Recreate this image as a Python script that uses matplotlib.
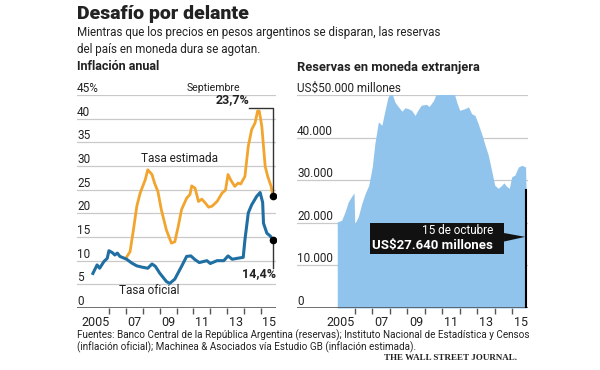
import matplotlib
matplotlib.use("Agg")
import matplotlib.pyplot as plt
import matplotlib.transforms as mtransforms
from matplotlib.patches import Rectangle, Polygon

plt.rcParams['font.family'] = ['Roboto', 'DejaVu Sans']
plt.rcParams['axes.unicode_minus'] = False
narrow = ['Liberation Sans Narrow', 'Roboto', 'DejaVu Sans']

# inflacion oficial (INDEC), % anual
oficial_t = [2005.05, 2005.3, 2005.45, 2005.7, 2005.9, 2006.0, 2006.2, 2006.35, 2006.5, 2006.65,
             2007.05, 2007.35, 2007.65, 2008.0, 2008.3, 2008.55, 2008.75, 2009.0, 2009.4, 2009.6,
             2009.9, 2010.3, 2010.6, 2010.85, 2011.1, 2011.35, 2011.8, 2012.0, 2012.4, 2012.8,
             2013.05, 2013.3, 2013.6, 2013.95, 2014.05, 2014.25, 2014.45, 2014.75, 2014.95, 2015.1,
             2015.15, 2015.35, 2015.55, 2015.71]
oficial_v = [7.3, 9.1, 8.4, 9.8, 10.5, 12.1, 11.7, 11.2, 11.6, 10.9,
             10.3, 9.5, 8.9, 8.6, 8.4, 9.3, 8.8, 7.4, 5.6, 5.2,
             6.1, 8.8, 10.9, 11.0, 10.2, 9.6, 10.0, 9.4, 10.0, 10.0,
             11.0, 10.3, 10.5, 10.7, 14.4, 20.1, 21.8, 23.6, 24.4, 22.3,
             17.9, 15.8, 15.2, 14.4]

# inflacion estimada (Machinea & Asociados), % anual
estimada_t = [2007.0, 2007.25, 2007.45, 2007.65, 2007.85, 2008.0, 2008.15, 2008.3, 2008.55, 2008.7,
              2008.9, 2009.1, 2009.4, 2009.7, 2009.9, 2010.1, 2010.3, 2010.6, 2010.8, 2010.9,
              2011.1, 2011.3, 2011.5, 2011.7, 2011.9, 2012.1, 2012.4, 2012.7, 2012.9, 2013.05,
              2013.25, 2013.45, 2013.65, 2013.8, 2014.05, 2014.25, 2014.45, 2014.65, 2014.8, 2014.9,
              2015.05, 2015.25, 2015.4, 2015.6, 2015.71]
estimada_v = [10.5, 11.9, 16.5, 21.5, 24.3, 25.7, 27.1, 29.2, 28.2, 26.4,
              24.6, 20.8, 16.5, 13.7, 14.0, 17.2, 20.8, 23.2, 24.0, 25.8,
              25.3, 22.5, 23.0, 22.2, 21.3, 21.5, 22.5, 24.3, 24.9, 28.2,
              26.8, 25.7, 26.4, 26.2, 27.8, 34.2, 37.7, 39.1, 41.6, 41.6,
              38.4, 29.9, 27.8, 25.7, 23.7]

# reservas, millones de US$
reservas_t = [2005.0, 2005.25, 2005.45, 2005.63, 2005.82, 2005.96, 2006.0, 2006.2, 2006.4, 2006.6,
              2006.8, 2007.0, 2007.15, 2007.35, 2007.55, 2007.73, 2007.9, 2008.1, 2008.3, 2008.5,
              2008.7, 2008.87, 2009.05, 2009.25, 2009.45, 2009.6, 2009.8, 2010.1, 2010.25, 2010.5,
              2010.7, 2010.87, 2011.05, 2011.3, 2011.55, 2011.65, 2011.83, 2012.0, 2012.3, 2012.5,
              2012.68, 2012.87, 2013.05, 2013.25, 2013.45, 2013.63, 2013.82, 2014.0, 2014.2, 2014.4,
              2014.52, 2014.67, 2014.83, 2014.97, 2015.15, 2015.35, 2015.55, 2015.76, 2015.79]
reservas_v = [20200, 20600, 22600, 24900, 26200, 27000, 19800, 21400, 24500, 26900,
              28800, 33100, 38600, 43700, 42900, 46400, 49500, 50700, 48300, 47200,
              46200, 47000, 46800, 46400, 45200, 46400, 47600, 47800, 47300, 48700,
              50700, 51900, 52500, 52100, 52300, 50800, 48300, 46400, 46800, 47200,
              45600, 45200, 43300, 40900, 38200, 35900, 32300, 28800, 28100, 28800,
              29400, 28600, 28100, 30800, 31200, 33100, 33500, 33100, 27640]

fecha_final = 2015.79
reserva_final = 27640

infl_ticks = [0, 5, 10, 15, 20, 25, 30, 35, 40, 45]
infl_labels = ['0', '5', '10', '15', '20', '25', '30', '35', '40', '45%']
res_ticks = [0, 10000, 20000, 30000, 40000, 50000]
res_labels = ['0', '10.000', '20.000', '30.000', '40.000', 'US$50.000 millones']
year_bounds = list(range(2006, 2016))
year_label_pos = [2005.2, 2007.5, 2009.5, 2011.5, 2013.5, 2015.5]
year_labels = ['2005', '07', '09', '11', '13', '15']

c_orange = '#F2A52E'
c_blue = '#1F6FA3'
c_fill = '#90C4EC'
c_grid = '#C9C9C9'
c_text = '#222222'

fig = plt.figure(figsize=(6, 3.7), dpi=100)
W, H = 600.0, 370.0


def style_axes(ax, ticks, labels):
    for s in ax.spines.values():
        s.set_visible(False)
    ax.set_yticks([])
    trans = mtransforms.blended_transform_factory(ax.transAxes, ax.transData)
    for t, lab in zip(ticks, labels):
        if t > 0:
            ax.axhline(t, color=c_grid, lw=0.9, zorder=0)
        ax.text(0.0, t, lab, transform=trans, ha='left', va='bottom', fontsize=8.5,
                color=c_text)
    ax.axhline(0, color='#555555', lw=1.2, zorder=5)
    ax.set_xticks(year_bounds)
    ax.set_xticklabels([])
    ax.tick_params(axis='x', which='major', direction='out', length=4, width=1,
                   color='#555555', pad=0)
    ax.set_xticks(year_label_pos, minor=True)
    ax.set_xticklabels(year_labels, minor=True)
    ax.tick_params(axis='x', which='minor', length=0, pad=6, labelsize=9, labelcolor=c_text)


# --- Inflacion anual ---
ax1 = fig.add_axes([77 / W, 1 - 308 / H, 199 / W, 213 / H])
ax1.set_xlim(2004.11, 2015.89)
ax1.set_ylim(0, 45)
style_axes(ax1, infl_ticks, infl_labels)
ax1.plot(estimada_t, estimada_v, color=c_orange, lw=2, zorder=3, solid_joinstyle='round')
ax1.plot(oficial_t, oficial_v, color=c_blue, lw=2.2, zorder=4, solid_joinstyle='round')
ax1.plot([estimada_t[-1], estimada_t[-1], 2014.3], [estimada_v[-1], 42.2, 42.2],
         color='#333333', lw=1, zorder=6, clip_on=False)
ax1.plot([oficial_t[-1], oficial_t[-1]], [oficial_v[-1], 8.5], color='#333333', lw=1, zorder=6)
ax1.plot([estimada_t[-1], oficial_t[-1]], [estimada_v[-1], oficial_v[-1]], 'o',
         color='black', ms=4.5, zorder=7)
ax1.text(2013.76, 46.4, 'Septiembre', ha='right', va='center', fontsize=7.6, color=c_text)
ax1.text(2014.3, 42.7, '23,7%', ha='right', va='bottom', fontsize=9, fontweight='bold',
         color=c_text)
ax1.text(2015.9, 7.2, '14,4%', ha='right', va='center', fontsize=9, fontweight='bold',
         color=c_text)
ax1.text(2010.2, 31.6, 'Tasa estimada', ha='center', va='center', fontsize=8.5, color=c_text)
ax1.text(2008.37, 3.6, 'Tasa oficial', ha='center', va='center', fontsize=8.5, color=c_text)

# --- Reservas en moneda extranjera ---
ax2 = fig.add_axes([297 / W, 1 - 308 / H, 231 / W, 213 / H])
ax2.set_xlim(2002.70, 2015.90)
ax2.set_ylim(0, 50000)
style_axes(ax2, res_ticks, res_labels)
ax2.fill_between(reservas_t, reservas_v, 0, color=c_fill, lw=0, zorder=2)
ax2.plot([fecha_final, fecha_final], [0, reserva_final], color='black', lw=1.5, zorder=6)
ax2.add_patch(Rectangle((2006.87, 12600), 2014.53 - 2006.87, 19850 - 12600,
                        facecolor='#111111', edgecolor='none', zorder=7))
ax2.add_patch(Polygon([(2014.53, 17600), (fecha_final - 0.05, 16700), (2014.53, 15600)],
                      closed=True, facecolor='#111111', edgecolor='none', zorder=7))
ax2.text(2013.9, 18100, '15 de octubre', ha='right', va='center', fontsize=8.5,
         color='white', zorder=8)
ax2.text(2013.9, 14700, 'US$27.640 millones', ha='right', va='center', fontsize=9.5,
         fontweight='bold', color='white', zorder=8)

# --- textos ---
fig.text(77 / W, 1 - 14 / H, 'Desafío por delante', ha='left', va='center', fontsize=14,
         fontweight='black', color=c_text)
fig.text(77 / W, 1 - 41 / H, 'Mientras que los precios en pesos argentinos se disparan, '
         'las reservas\ndel país en moneda dura se agotan.', ha='left', va='center',
         fontsize=8.4, family=narrow, color=c_text, linespacing=1.35)
fig.text(77 / W, 1 - 67 / H, 'Inflación anual', ha='left', va='center', fontsize=9,
         fontweight='bold', color=c_text)
fig.text(297 / W, 1 - 67 / H, 'Reservas en moneda extranjera', ha='left', va='center',
         fontsize=9.3, fontweight='bold', color=c_text)
fig.text(77 / W, 1 - 341 / H, 'Fuentes: Banco Central de la República Argentina (reservas); '
         'Instituto Nacional de Estadística y Censos\n(inflación oficial); Machinea & '
         'Asociados vía Estudio GB (inflación estimada).', ha='left', va='center',
         fontsize=7.1, family=narrow, color=c_text, linespacing=1.0)
fig.text(517 / W, 1 - 358 / H, 'THE WALL STREET JOURNAL.', ha='right', va='center',
         fontsize=6.5, family=['Liberation Serif', 'DejaVu Serif'], fontweight='bold',
         color=c_text)

fig.savefig('out.png', dpi=100, facecolor='white')
